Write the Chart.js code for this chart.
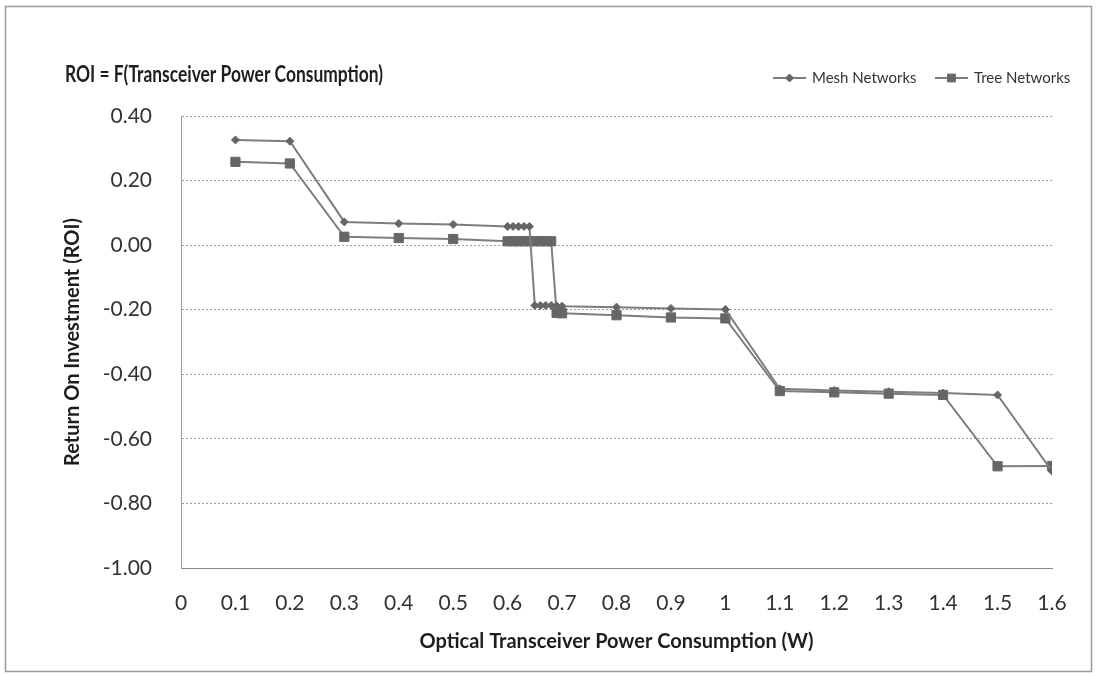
<!DOCTYPE html>
<html><head><meta charset="utf-8">
<script src="https://cdn.jsdelivr.net/npm/chart.js@4.4.1/dist/chart.umd.min.js"></script>
<style>html,body{margin:0;padding:0;background:#fff;}#wrap{width:1098px;height:677px;}</style>
</head><body><div id="wrap"><canvas id="c" width="1098" height="677"></canvas></div>
<script>
const chartTitle = 'ROI = F(Transceiver Power Consumption)';
const xAxisTitle = 'Optical Transceiver Power Consumption (W)';
const yAxisTitle = 'Return On Investment (ROI)';
const seriesNames = ['Mesh Networks', 'Tree Networks'];

const meshX = [0.1, 0.2, 0.3, 0.4, 0.5, 0.6, 0.61, 0.62, 0.63, 0.64, 0.65, 0.66, 0.67, 0.68, 0.69, 0.7, 0.8, 0.9, 1.0, 1.1, 1.2, 1.3, 1.4, 1.5, 1.6];
const meshY = [0.326, 0.322, 0.072, 0.067, 0.064, 0.058, 0.058, 0.058, 0.058, 0.058, -0.187, -0.187, -0.187, -0.187, -0.188, -0.189, -0.192, -0.196, -0.199, -0.445, -0.450, -0.454, -0.458, -0.464, -0.700];

const treeX = [0.1, 0.2, 0.3, 0.4, 0.5, 0.6, 0.61, 0.62, 0.63, 0.64, 0.65, 0.66, 0.67, 0.68, 0.69, 0.7, 0.8, 0.9, 1.0, 1.1, 1.2, 1.3, 1.4, 1.5, 1.6];
const treeY = [0.258, 0.253, 0.026, 0.022, 0.019, 0.012, 0.012, 0.012, 0.012, 0.012, 0.012, 0.012, 0.012, 0.012, -0.210, -0.211, -0.217, -0.224, -0.227, -0.452, -0.456, -0.460, -0.464, -0.685, -0.684];

const xMin = 0, xMax = 1.6, xStep = 0.1;
const yMin = -1.0, yMax = 0.4, yStep = 0.2;

const FONT = 'Lato, "Open Sans", sans-serif';
const TEXT = '#333333';
const DARK = '#1e1e1e';
const LINE = '#7d7d7d';
const MARK = '#666666';

function toPoints(xs, ys) { return xs.map((x, i) => ({x: x, y: ys[i]})); }

const decor = {
  id: 'decor',
  beforeDraw(chart) {
    const ctx = chart.ctx;
    ctx.save();
    ctx.fillStyle = '#fff';
    ctx.fillRect(0, 0, chart.width, chart.height);
    ctx.strokeStyle = '#9a9a9a';
    ctx.lineWidth = 1.5;
    ctx.strokeRect(5.5, 6.5, 1086, 665);
    ctx.restore();
  },
  afterDraw(chart) {
    const ctx = chart.ctx;
    ctx.save();
    // title, compressed horizontally to the reference's width
    ctx.fillStyle = DARK;
    ctx.font = 'bold 22px ' + FONT;
    ctx.textAlign = 'left';
    ctx.textBaseline = 'middle';
    const w = ctx.measureText(chartTitle).width;
    const sx = Math.min(1, 318 / w);
    ctx.save();
    ctx.translate(65, 75);
    ctx.scale(sx, 1);
    ctx.fillText(chartTitle, 0, 0);
    ctx.restore();
    // legend
    const items = [
      {x0: 773, style: 'rectRot', r: 4, name: seriesNames[0]},
      {x0: 935, style: 'rect', r: 5.5, name: seriesNames[1]}
    ];
    items.forEach(it => {
      ctx.strokeStyle = LINE;
      ctx.lineWidth = 2;
      ctx.beginPath();
      ctx.moveTo(it.x0, 78);
      ctx.lineTo(it.x0 + 33, 78);
      ctx.stroke();
      ctx.fillStyle = MARK;
      ctx.strokeStyle = MARK;
      ctx.lineWidth = 1;
      Chart.helpers.drawPoint(ctx, {pointStyle: it.style, radius: it.r, borderWidth: 1, rotation: 0}, it.x0 + 16.5, 78);
      ctx.fillStyle = TEXT;
      ctx.font = '15px ' + FONT;
      ctx.textAlign = 'left';
      ctx.textBaseline = 'middle';
      ctx.fillText(it.name, it.x0 + 39, 78);
    });
    ctx.restore();
  }
};

new Chart(document.getElementById('c'), {
  type: 'scatter',
  data: {
    datasets: [
      {
        label: seriesNames[0],
        data: toPoints(meshX, meshY),
        showLine: true,
        borderColor: LINE,
        borderWidth: 2,
        pointStyle: 'rectRot',
        pointRadius: 4,
        pointBackgroundColor: MARK,
        pointBorderColor: MARK,
        pointBorderWidth: 1,
        tension: 0
      },
      {
        label: seriesNames[1],
        data: toPoints(treeX, treeY),
        showLine: true,
        borderColor: LINE,
        borderWidth: 2,
        pointStyle: 'rect',
        pointRadius: 6.5,
        pointBackgroundColor: MARK,
        pointBorderColor: MARK,
        pointBorderWidth: 1,
        tension: 0
      }
    ]
  },
  options: {
    responsive: false,
    animation: false,
    devicePixelRatio: 1,
    layout: {padding: {left: 0, right: 46, top: 116, bottom: 0}},
    plugins: {
      legend: {display: false},
      title: {display: false},
      tooltip: {enabled: false}
    },
    scales: {
      x: {
        type: 'linear',
        min: xMin, max: xMax,
        grid: {display: false, drawTicks: false},
        border: {display: true, color: '#8a8a8a', width: 1},
        ticks: {
          stepSize: xStep,
          padding: 23,
          color: TEXT,
          font: {family: FONT, size: 21},
          maxRotation: 0,
          autoSkip: false,
          callback: v => String(Number(v.toFixed(1)))
        },
        title: {
          display: true,
          text: xAxisTitle,
          color: DARK,
          font: {family: FONT, size: 20, weight: 'bold'},
          padding: {top: 0, bottom: 23}
        },
        afterFit: s => { s.height = 109; }
      },
      y: {
        min: yMin, max: yMax,
        grid: {color: '#9c9c9c', lineWidth: 1, drawTicks: false},
        border: {display: true, color: '#9c9c9c', dash: [2, 2]},
        ticks: {
          stepSize: yStep,
          padding: 29,
          color: TEXT,
          font: {family: FONT, size: 21},
          callback: v => (Math.abs(v) < 1e-9 ? 0 : v).toFixed(2)
        },
        title: {
          display: true,
          text: yAxisTitle,
          color: DARK,
          font: {family: FONT, size: 20, weight: 'bold'},
          padding: {top: 61, bottom: 0}
        },
        afterFit: s => { s.width = 181; }
      }
    }
  },
  plugins: [decor]
});
</script>
</body></html>
